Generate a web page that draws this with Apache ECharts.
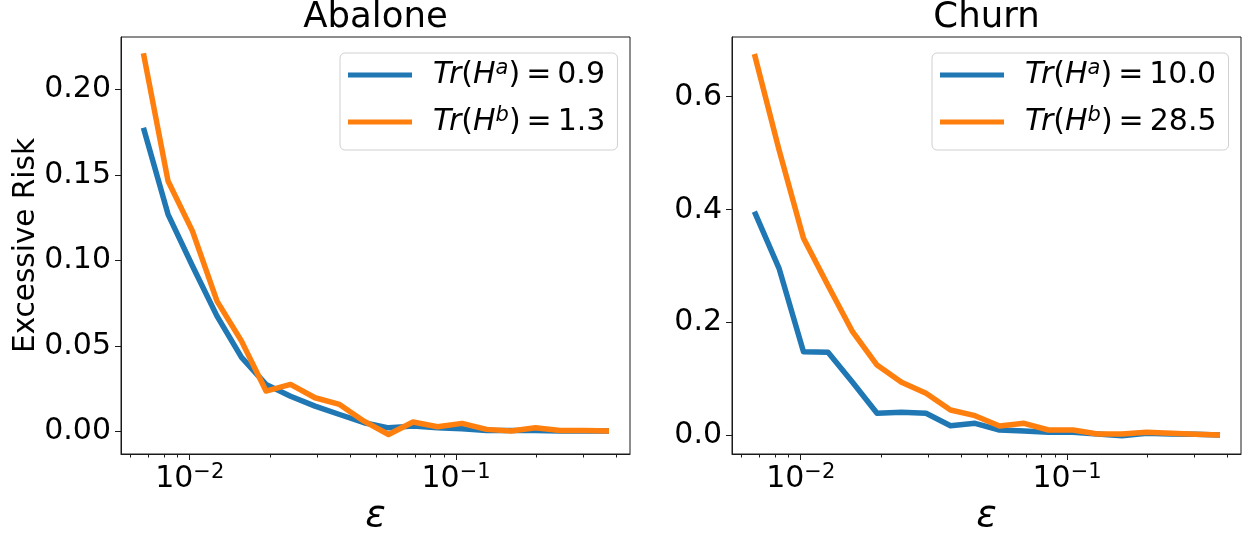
<!DOCTYPE html>
<html>
<head>
<meta charset="utf-8">
<script src="https://cdn.jsdelivr.net/npm/echarts@6/dist/echarts.min.js"></script>
<style>
html,body{margin:0;padding:0;background:#fff;}
#chart{width:1248px;height:536px;}
</style>
</head>
<body>
<div id="chart"></div>
<script>
// ---- data ----
const epsilon = [0.0067, 0.00829, 0.01024, 0.01266, 0.01565, 0.01934, 0.0239, 0.02954, 0.03651, 0.04512,
                 0.05577, 0.06892, 0.08518, 0.10529, 0.13012, 0.16082, 0.19876, 0.24565, 0.3036, 0.37519];
const abaloneA = [0.1776, 0.1269, 0.0967, 0.0674, 0.0433, 0.0275, 0.0206, 0.0148, 0.0099, 0.0051,
                  0.0021, 0.0031, 0.0021, 0.0015, 0.0006, 0.0006, 0.0006, 0.0002, 0.0002, 0.0002];
const abaloneB = [0.2211, 0.1464, 0.1171, 0.0762, 0.0528, 0.0236, 0.0275, 0.0197, 0.0158, 0.0060,
                  -0.0018, 0.0055, 0.0027, 0.0047, 0.0012, 0.0002, 0.0021, 0.0006, 0.0006, 0.0002];
const churnA = [0.3965, 0.2963, 0.1487, 0.1476, 0.0945, 0.0396, 0.0414, 0.0396, 0.0177, 0.0219,
                0.0101, 0.0083, 0.0060, 0.0060, 0.0030, 0.0000, 0.0042, 0.0030, 0.0024, 0.0012];
const churnB = [0.6756, 0.5059, 0.3494, 0.2660, 0.1840, 0.1251, 0.0945, 0.0750, 0.0455, 0.0354,
                0.0172, 0.0219, 0.0101, 0.0101, 0.0030, 0.0030, 0.0060, 0.0042, 0.0024, 0.0012];
const titles = ['Abalone', 'Churn'];
const legendNames = [['Tr(H^a) = 0.9', 'Tr(H^b) = 1.3'], ['Tr(H^a) = 10.0', 'Tr(H^b) = 28.5']];
const xMajorTicks = [0.01, 0.1];
const xMinorTicks = [0.006, 0.007, 0.008, 0.009, 0.02, 0.03, 0.04, 0.05, 0.06, 0.07, 0.08, 0.09, 0.2, 0.3, 0.4];
const yTicksAbalone = [0, 0.05, 0.10, 0.15, 0.20];
const yTicksChurn = [0, 0.2, 0.4, 0.6];
const xRange = [0.00552, 0.4498];
const yRangeAbalone = [-0.0132, 0.2306];
const yRangeChurn = [-0.0324, 0.7057];

// ---- styling ----
const FONT = 'DejaVu Sans';
const BLUE = '#1f77b4', ORANGE = '#ff7f0e';
const INK = '#1a1a1a';

function pairs(ys) { return ys.map((y, i) => [epsilon[i], y]); }

const grids = [
  { left: 121, top: 37, width: 509, height: 417 },
  { left: 732, top: 37, width: 509, height: 417 }
];

function xMain(gi) {
  return {
    type: 'log', gridIndex: gi, position: 'bottom', logBase: 10,
    min: xRange[0], max: xRange[1],
    axisLine: { show: true, onZero: false, lineStyle: { color: INK, width: 1 } },
    axisTick: { show: true, inside: false, length: 6, customValues: xMajorTicks, lineStyle: { color: INK, width: 1 } },
    axisLabel: {
      customValues: xMajorTicks, margin: 8, color: '#000', fontFamily: FONT, fontSize: 30,
      formatter: v => '{b|10}{s|−' + Math.round(-Math.log10(v)) + '}',
      rich: {
        b: { fontFamily: FONT, fontSize: 30, lineHeight: 32, color: '#000', verticalAlign: 'bottom' },
        s: { fontFamily: FONT, fontSize: 21, lineHeight: 18, color: '#000', verticalAlign: 'top' }
      }
    },
    splitLine: { show: false }, minorTick: { show: false },
    name: 'ε', nameLocation: 'middle', nameGap: 43, nameMoveOverlap: false,
    nameTextStyle: { fontFamily: FONT, fontSize: 38, fontStyle: 'italic', color: '#000' }
  };
}
function xMinor(gi) {
  return {
    type: 'log', gridIndex: gi, position: 'bottom', logBase: 10,
    min: xRange[0], max: xRange[1],
    axisLine: { show: false, onZero: false },
    axisTick: { show: true, inside: false, length: 3.5, customValues: xMinorTicks, lineStyle: { color: INK, width: 1 } },
    axisLabel: { show: false },
    splitLine: { show: false }
  };
}
function yAxis(gi, range, ticks, digits, name) {
  return {
    type: 'value', gridIndex: gi, min: range[0], max: range[1],
    axisLine: { show: true, onZero: false, lineStyle: { color: INK, width: 1 } },
    axisTick: { show: true, inside: false, length: 6, customValues: ticks, lineStyle: { color: INK, width: 1 } },
    axisLabel: { customValues: ticks, margin: 10, color: '#000', fontFamily: FONT, fontSize: 30,
                 formatter: v => v.toFixed(digits) },
    splitLine: { show: false },
    name: name || '', nameLocation: 'middle', nameGap: 80, nameMoveOverlap: false,
    nameTextStyle: { fontFamily: FONT, fontSize: 29.5, color: '#000' }
  };
}

function legendFmt(name) {
  const m = name.match(/^Tr\(H\^(\w)\) = (.*)$/);
  return '{g|}{it|Tr}{n|(}{it|H}{sup|' + m[1] + '}{n|)\u2009=\u2009' + m[2] + '}';
}
const legendRich = {
  g: { width: 16 },
  it: { fontFamily: FONT, fontStyle: 'italic', fontSize: 30, lineHeight: 34, color: '#000' },
  n: { fontFamily: FONT, fontSize: 30, lineHeight: 34, color: '#000' },
  sup: { fontFamily: FONT, fontStyle: 'italic', fontSize: 21, lineHeight: 18, color: '#000', verticalAlign: 'top' }
};
function legend(left, names) {
  return {
    orient: 'vertical', left: left, top: 53,
    data: names.map(n => ({ name: n, icon: 'rect' })),
    itemWidth: 64, itemHeight: 5, itemGap: 15,
    padding: [5, 12, 13, 8],
    backgroundColor: 'rgba(255,255,255,0.8)',
    borderColor: '#d0d0d0', borderWidth: 1, borderRadius: 5,
    formatter: legendFmt,
    textStyle: { fontFamily: FONT, fontSize: 30, color: '#000', rich: legendRich },
    selectedMode: false
  };
}

function line(name, xi, yi, data, color) {
  return {
    type: 'line', name: name, xAxisIndex: xi, yAxisIndex: yi, data: pairs(data),
    showSymbol: false, symbol: 'none', smooth: false,
    lineStyle: { color: color, width: 5.5, join: 'round' },
    itemStyle: { color: color },
    emphasis: { disabled: true }, animation: false, silent: true
  };
}

const chart = echarts.init(document.getElementById('chart'), null, { renderer: 'canvas' });
chart.setOption({
  animation: false,
  backgroundColor: '#fff',
  grid: grids.map(g => Object.assign({ show: true, borderColor: INK, borderWidth: 1, backgroundColor: 'transparent',
                                       containLabel: false, outerBoundsMode: 'none' }, g)),
  graphic: [
    { type: 'text', x: 375.5, y: 18, style: { text: titles[0], font: '35.5px "DejaVu Sans"', fill: '#000', align: 'center', verticalAlign: 'middle' } },
    { type: 'text', x: 986.5, y: 18, style: { text: titles[1], font: '35.5px "DejaVu Sans"', fill: '#000', align: 'center', verticalAlign: 'middle' } }
  ],
  xAxis: [xMain(0), xMain(1), xMinor(0), xMinor(1)],
  yAxis: [yAxis(0, yRangeAbalone, yTicksAbalone, 2, 'Excessive Risk'), yAxis(1, yRangeChurn, yTicksChurn, 1, '')],
  legend: [legend(340, legendNames[0]), legend(932, legendNames[1])],
  tooltip: { show: false },
  series: [
    line(legendNames[0][0], 0, 0, abaloneA, BLUE),
    line(legendNames[0][1], 0, 0, abaloneB, ORANGE),
    line(legendNames[1][0], 1, 1, churnA, BLUE),
    line(legendNames[1][1], 1, 1, churnB, ORANGE)
  ]
});
</script>
</body>
</html>
